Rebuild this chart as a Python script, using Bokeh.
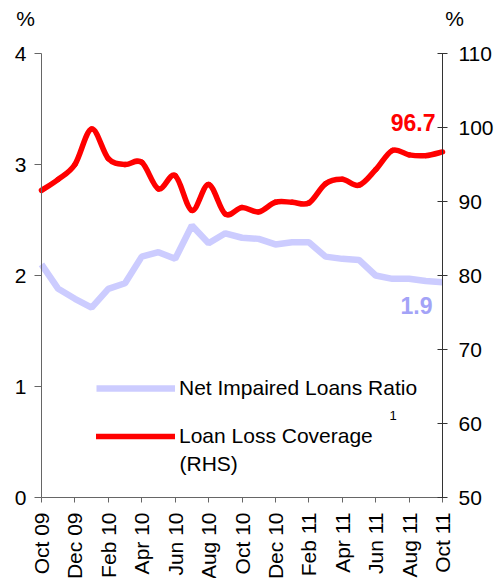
import math
from bokeh.plotting import figure
from bokeh.models import (Range1d, LinearAxis, FixedTicker, Label, Legend, LegendItem)
from bokeh.embed import file_html
from bokeh.resources import INLINE

months = ["Oct 09", "Nov 09", "Dec 09", "Jan 10", "Feb 10", "Mar 10", "Apr 10", "May 10",
          "Jun 10", "Jul 10", "Aug 10", "Sep 10", "Oct 10", "Nov 10", "Dec 10", "Jan 11",
          "Feb 11", "Mar 11", "Apr 11", "May 11", "Jun 11", "Jul 11", "Aug 11", "Sep 11", "Oct 11"]
net_impaired = [2.10, 1.88, 1.79, 1.71, 1.88, 1.93, 2.17, 2.21, 2.15, 2.45, 2.29, 2.38, 2.34,
                2.33, 2.28, 2.30, 2.30, 2.17, 2.15, 2.14, 2.00, 1.97, 1.97, 1.95, 1.94]
loan_loss_cov = [91.5, 93.0, 95.0, 99.8, 95.8, 95.0, 95.3, 91.7, 93.5, 88.8, 92.3, 88.3, 89.2,
                 88.6, 89.9, 89.9, 89.8, 92.4, 93.0, 92.2, 94.3, 96.9, 96.3, 96.2, 96.7]
left_ticks = [0, 1, 2, 3, 4]
right_ticks = [50, 60, 70, 80, 90, 100, 110]
label_last_nil = "1.9"
label_last_llc = "96.7"

FONT = "Liberation Sans"
LAV = "#CCCCFF"
LAV_TXT = "#A3A3F7"
RED = "#FF0000"

# canvas layout (pixels): plotting area inside the canvas
W, H = 494, 578
PL, PR, PT, PB = 41, 442, 53, 497

x = list(range(len(months)))
xlo, xhi = x[0], x[-1]
ylo, yhi = left_ticks[0], left_ticks[-1]
rlo, rhi = right_ticks[0], right_ticks[-1]

sx = (PR - PL) / (xhi - xlo)
sy = (PB - PT) / (yhi - ylo)
sr = (PB - PT) / (rhi - rlo)

p = figure(width=W, height=H, output_backend="svg", toolbar_location=None,
           x_range=Range1d(xlo - PL / sx, xhi + (W - PR) / sx),
           y_range=Range1d(ylo - (H - PB) / sy, yhi + PT / sy),
           min_border_left=0, min_border_right=0, min_border_top=0, min_border_bottom=0)
p.extra_y_ranges = {"right": Range1d(rlo - (H - PB) / sr, rhi + PT / sr)}
p.outline_line_color = None
p.xgrid.visible = False
p.ygrid.visible = False
p.background_fill_color = "white"
p.border_fill_color = "white"
p.title.visible = False

# x axis
xa = p.xaxis[0]
xa.fixed_location = ylo
xa.bounds = (xlo, xhi)
xa.ticker = FixedTicker(ticks=x[::2])
xa.major_label_overrides = {i: months[i] for i in x[::2]}
xa.major_label_orientation = math.pi / 2
xa.major_label_text_font = FONT
xa.major_label_text_font_size = "21px"
xa.major_label_text_color = "black"
xa.major_label_standoff = 10
xa.major_tick_in = 0
xa.major_tick_out = 5
xa.minor_tick_line_color = None
xa.axis_line_color = "#666666"
xa.major_tick_line_color = "#666666"

ya = p.yaxis[0]
ya.fixed_location = xlo
ya.bounds = (ylo, yhi)
ya.ticker = FixedTicker(ticks=left_ticks)
ya.major_label_text_font = FONT
ya.major_label_text_font_size = "21px"
ya.major_label_text_color = "black"
ya.major_label_standoff = 8
ya.major_tick_in = 0
ya.major_tick_out = 7
ya.minor_tick_line_color = None
ya.axis_line_color = "#666666"
ya.major_tick_line_color = "#666666"

ra = LinearAxis(y_range_name="right", ticker=FixedTicker(ticks=right_ticks))
ra.fixed_location = xhi
ra.bounds = (rlo, rhi)
ra.major_label_text_font = FONT
ra.major_label_text_font_size = "21px"
ra.major_label_text_color = "black"
ra.major_label_standoff = 11
ra.major_tick_in = 5
ra.major_tick_out = 5
ra.minor_tick_line_color = None
ra.axis_line_color = "#333333"
ra.major_tick_line_color = "#333333"
p.add_layout(ra, "right")

r_nil = p.line(x, net_impaired, line_color=LAV, line_width=6.5)

# smoothed red line (Catmull-Rom control points derived from the data)
n = len(x)
def P(i):
    i = max(0, min(n - 1, i))
    return x[i], loan_loss_cov[i]
x0s, y0s, x1s, y1s, cx0s, cy0s, cx1s, cy1s = ([] for _ in range(8))
for i in range(n - 1):
    pa, pb, pc, pd = P(i - 1), P(i), P(i + 1), P(i + 2)
    x0s.append(pb[0]); y0s.append(pb[1]); x1s.append(pc[0]); y1s.append(pc[1])
    cx0s.append(pb[0] + (pc[0] - pa[0]) / 6.0); cy0s.append(pb[1] + (pc[1] - pa[1]) / 6.0)
    cx1s.append(pc[0] - (pd[0] - pb[0]) / 6.0); cy1s.append(pc[1] - (pd[1] - pb[1]) / 6.0)
r_llc = p.bezier(x0=x0s, y0=y0s, x1=x1s, y1=y1s, cx0=cx0s, cy0=cy0s, cx1=cx1s, cy1=cy1s,
                 line_color=RED, line_width=5.5, line_cap="round", y_range_name="right")

legend = Legend(items=[LegendItem(label="Net Impaired Loans Ratio", renderers=[r_nil]),
                       LegendItem(label="Loan Loss Coverage", renderers=[r_llc])],
                location=(PL + 55, (H - PB) + 49), orientation="vertical",
                label_text_font=FONT, label_text_font_size="21px", label_text_color="black",
                glyph_width=79, glyph_height=20, label_height=20, label_standoff=4,
                spacing=24, padding=0, margin=0,
                border_line_color=None, background_fill_alpha=0)
p.add_layout(legend)

# legend extra texts
p.add_layout(Label(x=xlo, y=ylo, x_offset=138, y_offset=34, text="(RHS)", text_font=FONT,
                   text_font_size="21px", text_color="black", text_baseline="middle"))
p.add_layout(Label(x=xlo, y=ylo, x_offset=348, y_offset=82, text="1", text_font=FONT,
                   text_font_size="13px", text_color="black", text_baseline="middle"))

# end-value labels
p.add_layout(Label(x=x[-1], y=loan_loss_cov[-1], y_range_name="right", x_offset=-7, y_offset=29,
                   text=label_last_llc, text_font=FONT, text_font_size="23px",
                   text_font_style="bold", text_color=RED, text_align="right",
                   text_baseline="middle"))
p.add_layout(Label(x=x[-1], y=net_impaired[-1], x_offset=-10, y_offset=-23,
                   text=label_last_nil, text_font=FONT, text_font_size="23px",
                   text_font_style="bold", text_color=LAV_TXT, text_align="right",
                   text_baseline="middle"))

# "%" unit labels
p.add_layout(Label(x=xlo, y=yhi, x_offset=-16, y_offset=35, text="%", text_font=FONT,
                   text_font_size="21px", text_color="black", text_align="center",
                   text_baseline="middle"))
p.add_layout(Label(x=xhi, y=yhi, x_offset=12, y_offset=35, text="%", text_font=FONT,
                   text_font_size="21px", text_color="black", text_align="center",
                   text_baseline="middle"))

open("out.html", "w").write(file_html(p, INLINE))
